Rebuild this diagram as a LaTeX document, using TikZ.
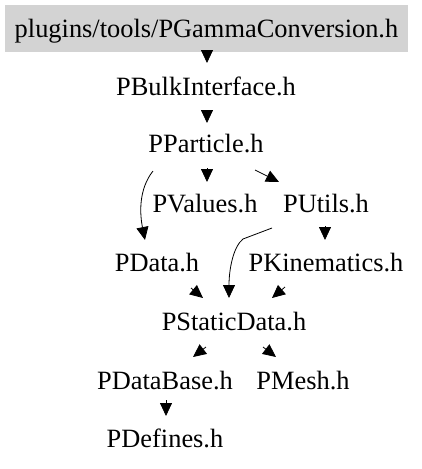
\documentclass[tikz,border=0pt]{standalone}
\usepackage{fontspec}
\setmainfont{Liberation Serif}
\usetikzlibrary{arrows.meta,calc}
\begin{document}
\begin{tikzpicture}[x=1pt,y=-1pt,
  lbl/.style={anchor=base,inner sep=0pt,font=\fontsize{26.4}{30}\selectfont},
  topbox/.style={lbl,fill={rgb,255:red,211;green,211;blue,211},minimum width=403pt,minimum height=47pt,text height=18pt,text depth=1pt},
  e/.style={line width=0.8pt,-{Triangle[length=13pt,width=12pt]}}]
\useasboundingbox (0,0) rectangle (421,469);
\node[topbox] (top) at (206.5,37) {plugins/tools/PGammaConversion.h};
\node[lbl] (bulk) at (206,95) {PBulkInterface.h};
\node[lbl] (part) at (206,152) {PParticle.h};
\node[lbl] (vals) at (205,212) {PValues.h};
\node[lbl] (utils) at (326,212) {PUtils.h};
\node[lbl] (data) at (157,271) {PData.h};
\node[lbl] (kin) at (326,271) {PKinematics.h};
\node[lbl] (stat) at (234,330) {PStaticData.h};
\node[lbl] (dbase) at (165,389) {PDataBase.h};
\node[lbl] (mesh) at (303,389) {PMesh.h};
\node[lbl] (defs) at (165,447) {PDefines.h};
% edges
\draw[e] ($(top.south)+(0.5,0)$) -- ($(bulk.base)+(1,-32)$);
\draw[e] ($(bulk.base)+(1,16)$) -- ($(part.base)+(1,-29)$);
\draw[e] ($(part.base)+(1,16)$) -- ($(vals.base)+(2,-30)$);
\draw[e] ($(part.base)+(49,18)$) -- ($(utils.base)+(-47,-30)$);
\draw[e] ($(part.base)+(-53,19)$) .. controls ($(part.base)+(-68,38)$) and ($(data.base)+(-17,-56)$) .. ($(data.base)+(-12,-31)$);
\draw[e] ($(utils.base)+(-54,16)$) -- ($(utils.base)+(-83,27)$) .. controls ($(stat.base)+(-1,-83)$) and ($(stat.base)+(-5,-60)$) .. ($(stat.base)+(-5,-32)$);
\draw[e] ($(utils.base)+(-1,14)$) -- ($(kin.base)+(-1,-31)$);
\draw[e] ($(data.base)+(34,17)$) -- ($(stat.base)+(-31,-32)$);
\draw[e] ($(kin.base)+(-41,16)$) -- ($(stat.base)+(38,-32)$);
\draw[e] ($(stat.base)+(-28,17)$) -- ($(dbase.base)+(28,-32)$);
\draw[e] ($(stat.base)+(29,17)$) -- ($(mesh.base)+(-27,-32)$);
\draw[e] ($(dbase.base)+(1,11)$) -- ($(defs.base)+(1,-31)$);
\end{tikzpicture}
\end{document}
